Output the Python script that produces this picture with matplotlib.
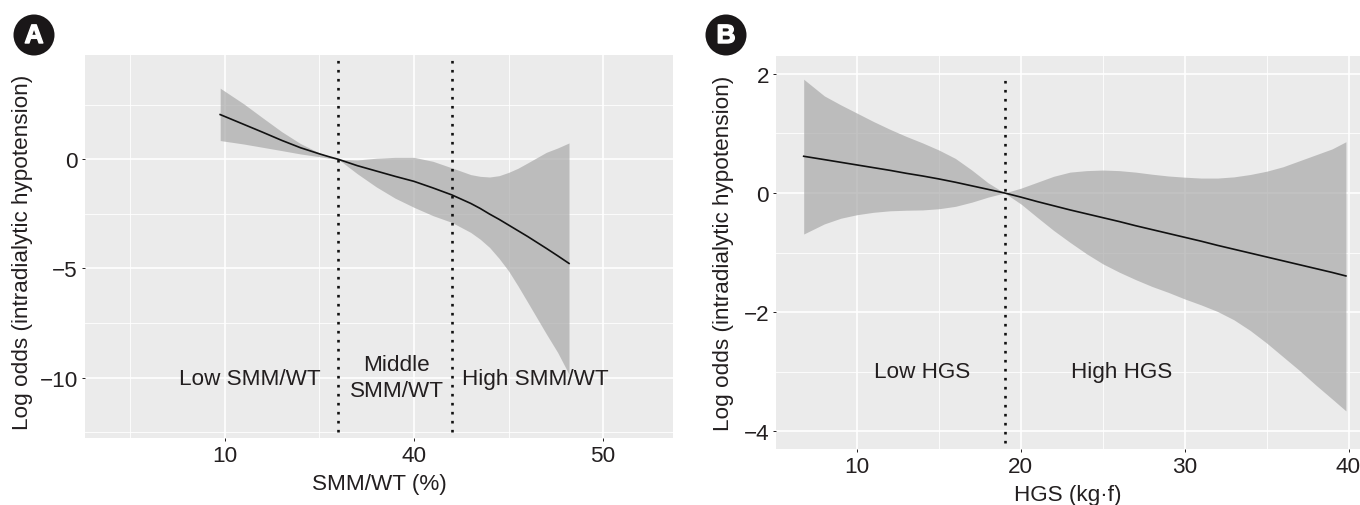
import matplotlib
matplotlib.use("Agg")
import matplotlib.pyplot as plt
import matplotlib.patheffects as pe
from matplotlib.patches import Ellipse

plt.rcParams['font.family'] = ['Liberation Sans', 'DejaVu Sans']

W, H = 1360, 506
TEXT = '#231f20'
FS = 16.2

# panel A
a_x = [29.75, 31, 32, 33, 34, 35, 35.5, 36, 37, 38, 39, 40, 41, 42, 43, 43.5, 44, 44.5, 45, 45.5, 46, 47, 47.6, 48.2]
a_line = [2.05, 1.6, 1.24, 0.87, 0.53, 0.25, 0.12, 0, -0.29, -0.535, -0.78, -1.01, -1.31, -1.63, -2.02, -2.25, -2.51, -2.75, -3.01, -3.27, -3.53, -4.08, -4.42, -4.77]
a_upper = [3.26, 2.54, 1.9, 1.27, 0.72, 0.29, 0.14, 0, -0.03, 0.05, 0.09, 0.09, -0.09, -0.39, -0.7, -0.78, -0.81, -0.75, -0.6, -0.41, -0.17, 0.32, 0.52, 0.75]
a_lower = [0.86, 0.7, 0.55, 0.4, 0.245, 0.12, 0.05, 0, -0.66, -1.26, -1.78, -2.2, -2.58, -2.89, -3.35, -3.66, -4.04, -4.54, -5.11, -5.8, -6.53, -8.0, -8.85, -9.85]
a_xticks = [30, 40, 50]
a_xlabels = ['10', '40', '50']
a_yticks = [0, -5, -10]
a_cuts = [36, 42]

# panel B
b_x = [6.74, 8, 9, 10, 11, 12, 13, 14, 15, 16, 17, 18, 19, 20, 21, 22, 23, 24, 25, 26, 27, 28, 29, 30, 31, 32, 33, 34, 35, 36, 37, 38, 39, 39.84]
b_line = [0.616, 0.56, 0.515, 0.47, 0.425, 0.38, 0.33, 0.285, 0.235, 0.18, 0.12, 0.06, 0, -0.07, -0.145, -0.215, -0.285, -0.35, -0.415, -0.48, -0.55, -0.615, -0.68, -0.745, -0.81, -0.88, -0.945, -1.01, -1.075, -1.14, -1.205, -1.27, -1.335, -1.394]
b_upper = [1.91, 1.63, 1.48, 1.34, 1.2, 1.07, 0.95, 0.84, 0.72, 0.58, 0.385, 0.17, 0, 0.08, 0.18, 0.28, 0.35, 0.375, 0.385, 0.375, 0.35, 0.315, 0.285, 0.265, 0.25, 0.25, 0.27, 0.31, 0.365, 0.44, 0.54, 0.64, 0.74, 0.86]
b_lower = [-0.69, -0.52, -0.425, -0.365, -0.325, -0.3, -0.29, -0.285, -0.265, -0.225, -0.155, -0.07, 0, -0.185, -0.41, -0.63, -0.83, -1.02, -1.19, -1.33, -1.455, -1.57, -1.67, -1.78, -1.88, -1.99, -2.13, -2.31, -2.52, -2.75, -2.98, -3.225, -3.46, -3.66]
b_xticks = [10, 20, 30, 40]
b_yticks = [2, 0, -2, -4]
b_cuts = [19]


def panel(box, xlim, ylim, x, line, upper, lower, xticks, xlabels, yticks, xminor, yminor, cuts, cut_span, xlabel):
    left, top, right, bottom = box
    ax = fig.add_axes([left / W, 1 - bottom / H, (right - left) / W, (bottom - top) / H])
    ax.set_facecolor('#ebebeb')
    for s in ax.spines.values():
        s.set_visible(False)
    ax.set_xlim(xlim)
    ax.set_ylim(ylim)
    ax.set_xticks(xticks)
    ax.set_xticklabels(xlabels)
    ax.set_yticks(yticks)
    ax.set_yticklabels([str(v).replace('-', '\u2212') for v in yticks])
    ax.set_xticks(xminor, minor=True)
    ax.set_yticks(yminor, minor=True)
    ax.grid(True, which='major', color='white', lw=1.2)
    ax.grid(True, which='minor', color='white', lw=0.6)
    ax.set_axisbelow(True)
    ax.tick_params(which='major', length=2.5, width=0.7, color=TEXT, labelsize=FS, labelcolor=TEXT, pad=2.5)
    ax.tick_params(which='minor', length=0)
    ax.fill_between(x, lower, upper, color='#a9a9a9', alpha=0.7, lw=0)
    ax.plot(x, line, color='#111111', lw=1.2)
    ax.vlines(cuts, cut_span[0], cut_span[1], color='#111111', lw=1.9, linestyles=(0, (1, 2.41)))
    ax.set_xlabel(xlabel, fontsize=FS, color=TEXT, labelpad=5)
    ax.set_ylabel('Log odds (intradialytic hypotension)', fontsize=FS, color=TEXT)
    return ax


fig = plt.figure(figsize=(W / 100, H / 100), dpi=100)

ax_a = panel((85, 56, 673, 439), (22.6, 53.7), (-12.77, 4.78), a_x, a_line, a_upper, a_lower,
             a_xticks, a_xlabels, a_yticks, [25, 35, 45], [2.5, -2.5, -7.5, -12.5], a_cuts, (-12.5, 4.7), 'SMM/WT (%)')
ax_a.yaxis.set_label_coords(-52 / 588, 0.487)
for tx, ty, s in [(31.3, -10.05, 'Low SMM/WT'), (39.1, -10.0, 'Middle\nSMM/WT'), (46.4, -10.05, 'High SMM/WT')]:
    ax_a.text(tx, ty, s, ha='center', va='center', fontsize=FS, color=TEXT, linespacing=1.3)

ax_b = panel((776, 57, 1360, 450), (5.05, 40.7), (-4.3, 2.3), b_x, b_line, b_upper, b_lower,
             b_xticks, [str(v) for v in b_xticks], b_yticks, [15, 25, 35], [1, -1, -3], b_cuts, (-4.2, 1.93), 'HGS (kg\u00b7f)')
ax_b.yaxis.set_label_coords(-42 / 584, 0.5)
ax_b.text(13.97, -3.0, 'Low HGS', ha='center', va='center', fontsize=FS, color=TEXT)
ax_b.text(26.15, -3.0, 'High HGS', ha='center', va='center', fontsize=FS, color=TEXT)

# round badges
for cx, letter in [(34, 'A'), (726, 'B')]:
    fig.add_artist(Ellipse((cx / W, 1 - 36 / H), 41 / W, 41 / H, transform=fig.transFigure, fc='#1a1718', ec='none'))
    t = fig.text(cx / W, 1 - 37 / H, letter, ha='center', va='center', color='white', fontsize=19, fontweight='bold')
    t.set_path_effects([pe.withStroke(linewidth=1, foreground='white')])

fig.savefig('out.png', dpi=100)
